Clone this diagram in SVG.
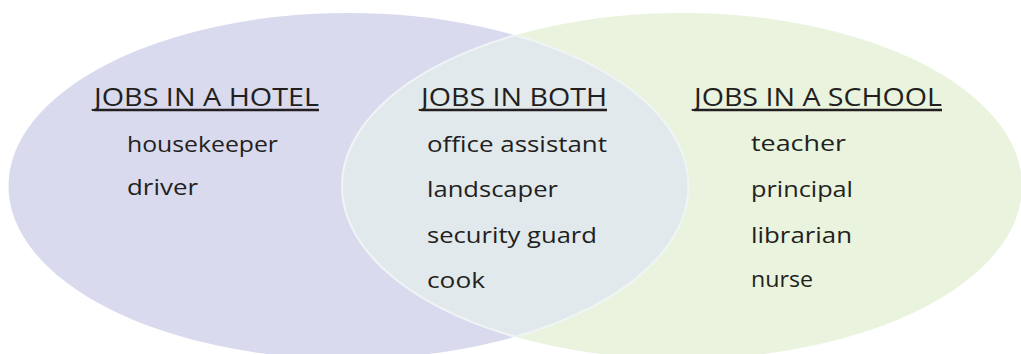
<svg xmlns="http://www.w3.org/2000/svg" width="1021" height="354" viewBox="0 0 1021 354">
<style>
.h{font-family:"Open Sans","Liberation Sans",sans-serif;font-size:25px;fill:#231f20}
.t{font-family:"Open Sans","Liberation Sans",sans-serif;font-size:22px;fill:#231f20}
.u{stroke:#231f20;stroke-width:2.5}
</style>
<defs>
<clipPath id="cl"><ellipse cx="348.5" cy="186" rx="340" ry="173"/></clipPath>
<clipPath id="cr"><ellipse cx="682" cy="186" rx="340" ry="173"/></clipPath>
</defs>
<rect width="1021" height="354" fill="#ffffff"/>
<g id="hotel-set">
<ellipse cx="348.5" cy="186" rx="340" ry="173" fill="#d9daee"/>
</g>
<g id="school-set">
<ellipse cx="682" cy="186" rx="340" ry="173" fill="#e9f3dd"/>
</g>
<g id="both-set">
<ellipse cx="682" cy="186" rx="340" ry="173" fill="#e2e9ec" clip-path="url(#cl)"/>
<ellipse cx="682" cy="186" rx="340" ry="173" fill="none" stroke="#f1f4f5" stroke-width="2" clip-path="url(#cl)"/>
<ellipse cx="348.5" cy="186" rx="340" ry="173" fill="none" stroke="#f1f4f5" stroke-width="2" clip-path="url(#cr)"/>
</g>
<g id="hotel-text">
<text class="h" x="94" y="106" textLength="225" lengthAdjust="spacingAndGlyphs">JOBS IN A HOTEL</text>
<line class="u" x1="94" y1="110" x2="319" y2="110"/>
<text class="t" x="127" y="152" textLength="151" lengthAdjust="spacingAndGlyphs">housekeeper</text>
<text class="t" x="127" y="195" textLength="71" lengthAdjust="spacingAndGlyphs">driver</text>
</g>
<g id="both-text">
<text class="h" x="421" y="106" textLength="186" lengthAdjust="spacingAndGlyphs">JOBS IN BOTH</text>
<line class="u" x1="421" y1="110" x2="607" y2="110"/>
<text class="t" x="427" y="152" textLength="180" lengthAdjust="spacingAndGlyphs">office assistant</text>
<text class="t" x="427" y="197" textLength="131" lengthAdjust="spacingAndGlyphs">landscaper</text>
<text class="t" x="427" y="243" textLength="170" lengthAdjust="spacingAndGlyphs">security guard</text>
<text class="t" x="427" y="288" textLength="58" lengthAdjust="spacingAndGlyphs">cook</text>
</g>
<g id="school-text">
<text class="h" x="694" y="106" textLength="248" lengthAdjust="spacingAndGlyphs">JOBS IN A SCHOOL</text>
<line class="u" x1="694" y1="110" x2="942" y2="110"/>
<text class="t" x="751" y="151" textLength="95" lengthAdjust="spacingAndGlyphs">teacher</text>
<text class="t" x="751" y="197" textLength="102" lengthAdjust="spacingAndGlyphs">principal</text>
<text class="t" x="751" y="243" textLength="101" lengthAdjust="spacingAndGlyphs">librarian</text>
<text class="t" x="751" y="287" textLength="62" lengthAdjust="spacingAndGlyphs">nurse</text>
</g>
</svg>
